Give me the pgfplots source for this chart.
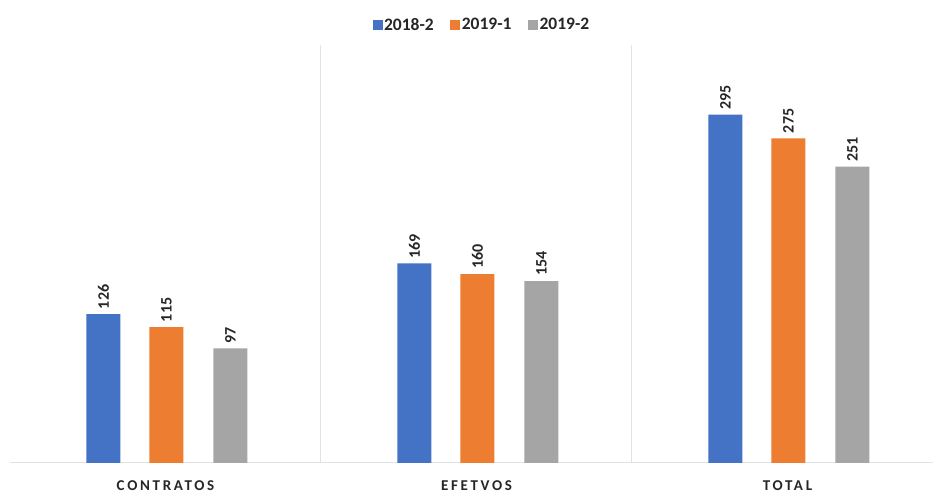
\documentclass[border=0pt]{standalone}
\usepackage{fontspec}
\setmainfont{Carlito}
\newfontfamily\catfont[LetterSpace=18]{Carlito}
\usepackage{pgfplots}
\pgfplotsset{compat=1.18}
\definecolor{cblue}{HTML}{4472C4}
\definecolor{corange}{HTML}{ED7D31}
\definecolor{cgray}{HTML}{A5A5A5}
\definecolor{sep}{HTML}{E3E3E3}
\definecolor{txt}{HTML}{262626}
\pgfplotsset{mybar/.style={ybar, bar width=34pt, draw=none,
  legend image code/.code={\fill[##1] (-3pt,-5pt) rectangle (7pt,5pt);}}}
\begin{document}
\begin{tikzpicture}
\useasboundingbox (-10pt,-31pt) rectangle (923pt,463pt);
\begin{axis}[
  scale only axis, width=923pt, height=418pt,
  xmin=-0.5, xmax=2.468, ymin=0, ymax=354,
  axis line style={draw=none},
  /pgf/number format/assume math mode=true,
  xtick={0,1,2}, xticklabels={CONTRATOS,EFETVOS,TOTAL},
  xticklabel style={font=\catfont\bfseries\fontsize{15}{17}\selectfont, text=txt, inner sep=0pt, yshift=-17.5pt},
  major tick length=0pt, minor tick length=0pt,
  minor xtick={0.5,1.5}, xminorgrids=true,
  minor grid style={draw=sep, line width=1pt},
  ytick=\empty, extra y ticks={0}, extra y tick labels={},
  extra y tick style={ymajorgrids=true, major grid style={draw=sep, line width=1pt}},
  clip=false,
  nodes near coords,
  legend columns=3,
  legend style={draw=none, fill=none, at={(rel axis cs:0.511,1.048)}, anchor=center,
    font=\bfseries\fontsize{17.5}{19}\selectfont, text=txt,
    nodes={inner sep=1.5pt},
    /tikz/every even column/.append style={column sep=15pt}},
]
\addplot[mybar, bar shift=-62pt, fill=cblue,
  nodes near coords style={xshift=-62pt, rotate=90, anchor=west, inner sep=5pt, font=\bfseries\fontsize{16}{18}\selectfont, text=txt}]
  coordinates {(0,126) (1,169) (2,295)};
\addlegendentry{2018-2}
\addplot[mybar, bar shift=1pt, fill=corange,
  nodes near coords style={xshift=1pt, rotate=90, anchor=west, inner sep=5pt, font=\bfseries\fontsize{16}{18}\selectfont, text=txt}]
  coordinates {(0,115) (1,160) (2,275)};
\addlegendentry{2019-1}
\addplot[mybar, bar shift=65pt, fill=cgray,
  nodes near coords style={xshift=65pt, rotate=90, anchor=west, inner sep=5pt, font=\bfseries\fontsize{16}{18}\selectfont, text=txt}]
  coordinates {(0,97) (1,154) (2,251)};
\addlegendentry{2019-2}
\end{axis}
\end{tikzpicture}
\end{document}
